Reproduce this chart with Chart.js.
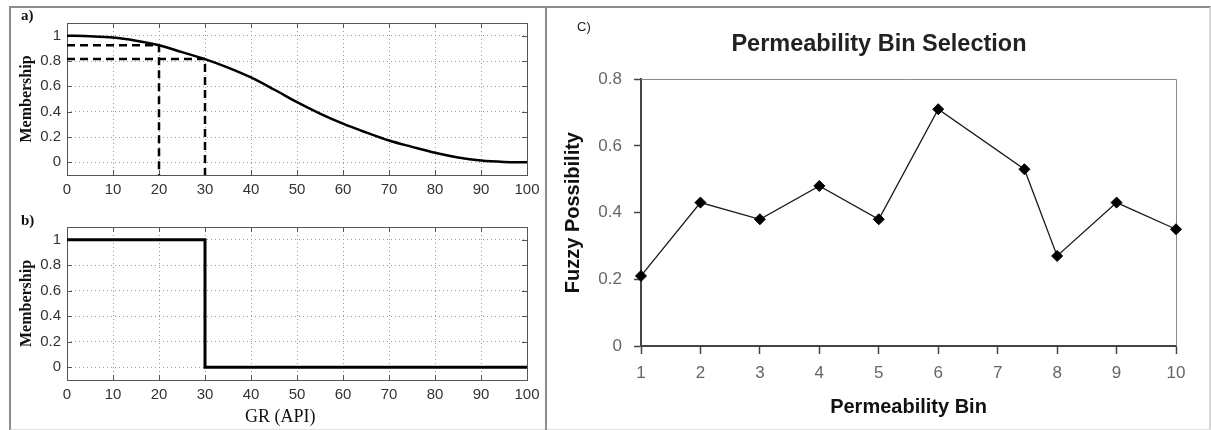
<!DOCTYPE html>
<html>
<head>
<meta charset="utf-8">
<title>Membership and permeability bin selection</title>
<script src="https://cdn.jsdelivr.net/npm/chart.js@4.4.0/dist/chart.umd.min.js"></script>
<style>
  body { margin: 0; background: #fff; width: 1211px; height: 430px; overflow: hidden; position: relative; }
  .frame { position: absolute; left: 9px; top: 6px; width: 1198px; height: 421px;
           border: 2px solid #8c8c8c; border-right-color: #d8d8d8; border-bottom-color: #e0e0e0; }
  .divider { position: absolute; left: 545px; top: 6px; width: 2px; height: 424px; background: #8c8c8c; }
  canvas { position: absolute; }
  .lbl { position: absolute; font-family: "Liberation Serif", "Times New Roman", serif; font-weight: bold; font-size: 15px; color: #111; }
  .xlbl { position: absolute; font-family: "Liberation Serif", "Times New Roman", serif; font-size: 18px; color: #111; }
  .clbl { position: absolute; font-family: "Liberation Sans", Arial, sans-serif; font-size: 13px; color: #222; }
</style>
</head>
<body>
<div class="frame"></div>
<div class="divider"></div>
<canvas id="chartA" width="546" height="200" style="left:0;top:0"></canvas>
<canvas id="chartB" width="546" height="230" style="left:0;top:200px"></canvas>
<canvas id="chartC" width="664" height="430" style="left:547px;top:0"></canvas>
<div class="lbl" style="left:21px;top:7px">a)</div>
<div class="lbl" style="left:21px;top:212px">b)</div>
<div class="xlbl" style="left:245px;top:406px">GR (API)</div>
<div class="clbl" style="left:577px;top:19px">C)</div>
<script>
// panel a: gradual membership curve
const grX = [0, 5, 10, 15, 20, 25, 30, 35, 40, 45, 50, 55, 60, 65, 70, 75, 80, 85, 90, 95, 100];
const membershipA = [1.0, 0.995, 0.985, 0.96, 0.925, 0.87, 0.815, 0.748, 0.67, 0.575, 0.475, 0.385,
                     0.305, 0.236, 0.172, 0.122, 0.075, 0.038, 0.014, 0.003, 0];
const cut20X = [0, 20, 20];
const cut20Y = [0.925, 0.925, -0.1];
const cut30X = [0, 30, 30];
const cut30Y = [0.815, 0.815, -0.1];

// panel b: crisp cut-off
const stepX = [0, 30, 30, 100];
const stepY = [1, 1, 0, 0];

const grTicks = [0, 10, 20, 30, 40, 50, 60, 70, 80, 90, 100];
const memTicks = [0, 0.2, 0.4, 0.6, 0.8, 1];

// panel c: permeability bins
const bins = [1, 2, 3, 4, 5, 6, 7.45, 8, 9, 10];
const possibility = [0.21, 0.43, 0.38, 0.48, 0.38, 0.71, 0.53, 0.27, 0.43, 0.35];
const binTicks = [1, 2, 3, 4, 5, 6, 7, 8, 9, 10];
const possTicks = [0, 0.2, 0.4, 0.6, 0.8];

Chart.defaults.font.family = '"Liberation Sans", Arial, sans-serif';
Chart.defaults.animation = false;

const pts = (xs, ys) => xs.map((v, i) => ({ x: v, y: ys[i] }));
const fmt = v => String(+Number(v).toFixed(2));

// box with inward ticks, matlab style
const matlabBox = {
    id: 'matlabBox',
    beforeDatasetsDraw(chart) {
        const { ctx, chartArea: a, scales: { x, y } } = chart;
        ctx.save();
        ctx.strokeStyle = '#555';
        ctx.lineWidth = 1;
        ctx.strokeRect(Math.round(a.left) + 0.5, Math.round(a.top) + 0.5, Math.round(a.width), Math.round(a.height));
        ctx.beginPath();
        grTicks.forEach(v => {
            const px = Math.round(x.getPixelForValue(v)) + 0.5;
            ctx.moveTo(px, a.bottom); ctx.lineTo(px, a.bottom - 5);
            ctx.moveTo(px, a.top); ctx.lineTo(px, a.top + 5);
        });
        memTicks.forEach(v => {
            const py = Math.round(y.getPixelForValue(v)) + 0.5;
            ctx.moveTo(a.left, py); ctx.lineTo(a.left + 5, py);
            ctx.moveTo(a.right, py); ctx.lineTo(a.right - 5, py);
        });
        ctx.stroke();
        ctx.restore();
    }
};

function memScales(xHeight) {
    return {
        x: {
            type: 'linear', min: 0, max: 100,
            afterBuildTicks: s => { s.ticks = grTicks.map(v => ({ value: v })); },
            afterFit: s => { s.height = xHeight; },
            grid: { color: '#9a9a9a', drawTicks: false },
            border: { display: false, dash: [1, 3] },
            ticks: { padding: 6, color: '#333', font: { size: 15 }, callback: fmt, maxRotation: 0 }
        },
        y: {
            min: -0.1, max: 1.1,
            afterBuildTicks: s => { s.ticks = memTicks.map(v => ({ value: v })); },
            afterFit: s => { s.width = 67; },
            grid: { color: '#9a9a9a', drawTicks: false },
            border: { display: false, dash: [1, 3] },
            ticks: { padding: 6, color: '#333', font: { size: 15 }, callback: fmt },
            title: {
                display: true, text: 'Membership', color: '#111',
                font: { family: '"Liberation Serif", "Times New Roman", serif', weight: 'bold', size: 16 },
                padding: { top: 17 }
            }
        }
    };
}

function createChartA() {
    new Chart(document.getElementById('chartA'), {
        type: 'scatter',
        data: {
            datasets: [
                { data: pts(grX, membershipA), showLine: true, borderColor: '#000', borderWidth: 2.5,
                  pointRadius: 0, cubicInterpolationMode: 'monotone' },
                { data: pts(cut20X, cut20Y), showLine: true, borderColor: '#000', borderWidth: 2.5,
                  borderDash: [8, 5], pointRadius: 0 },
                { data: pts(cut30X, cut30Y), showLine: true, borderColor: '#000', borderWidth: 2.5,
                  borderDash: [8, 5], pointRadius: 0 }
            ]
        },
        options: {
            responsive: false,
            layout: { padding: { left: 0, top: 23, right: 19, bottom: 0 } },
            plugins: { legend: { display: false }, tooltip: { enabled: false } },
            scales: memScales(25)
        },
        plugins: [matlabBox]
    });
}

function createChartB() {
    new Chart(document.getElementById('chartB'), {
        type: 'scatter',
        data: {
            datasets: [
                { data: pts(stepX, stepY), showLine: true, borderColor: '#000', borderWidth: 3,
                  pointRadius: 0 }
            ]
        },
        options: {
            responsive: false,
            layout: { padding: { left: 0, top: 27, right: 19, bottom: 0 } },
            plugins: { legend: { display: false }, tooltip: { enabled: false } },
            scales: memScales(50)
        },
        plugins: [matlabBox]
    });
}

// top and right edges of the excel-style plot area
const excelBox = {
    id: 'excelBox',
    beforeDatasetsDraw(chart) {
        const { ctx, chartArea: a } = chart;
        ctx.save();
        ctx.strokeStyle = '#8a8a8a';
        ctx.lineWidth = 1;
        ctx.beginPath();
        ctx.moveTo(a.left, Math.round(a.top) + 0.5);
        ctx.lineTo(Math.round(a.right) + 0.5, Math.round(a.top) + 0.5);
        ctx.lineTo(Math.round(a.right) + 0.5, a.bottom);
        ctx.stroke();
        ctx.restore();
    }
};

function createChartC() {
    new Chart(document.getElementById('chartC'), {
        type: 'scatter',
        data: {
            datasets: [{
                data: pts(bins, possibility), showLine: true, clip: false,
                borderColor: '#1a1a1a', borderWidth: 1.3,
                pointStyle: 'rectRot', pointRadius: 5.5,
                pointBackgroundColor: '#000', pointBorderColor: '#000', pointBorderWidth: 1
            }]
        },
        options: {
            responsive: false,
            layout: { padding: 0 },
            plugins: {
                legend: { display: false }, tooltip: { enabled: false },
                title: {
                    display: true, text: 'Permeability Bin Selection', color: '#222',
                    font: { size: 23.5, weight: 'bold' },
                    padding: { top: 30, bottom: 21 }
                }
            },
            scales: {
                x: {
                    type: 'linear', min: 1, max: 10,
                    afterBuildTicks: s => { s.ticks = binTicks.map(v => ({ value: v })); },
                    afterFit: s => { s.height = 84; },
                    grid: { drawOnChartArea: false, drawTicks: true, tickLength: 8, tickColor: '#444', tickWidth: 1.5 },
                    border: { color: '#444', width: 2 },
                    ticks: { padding: 9, color: '#666', font: { size: 17 }, callback: fmt, maxRotation: 0 },
                    title: {
                        display: true, text: 'Permeability Bin', color: '#111',
                        font: { size: 20, weight: 'bold' }, padding: { bottom: 11 }
                    }
                },
                y: {
                    min: 0, max: 0.8,
                    afterBuildTicks: s => { s.ticks = possTicks.map(v => ({ value: v })); },
                    afterFit: s => { s.width = 94; },
                    grid: { drawOnChartArea: false, drawTicks: true, tickLength: 7, tickColor: '#444', tickWidth: 1.5 },
                    border: { color: '#444', width: 2 },
                    ticks: { padding: 12, color: '#666', font: { size: 17 }, callback: fmt },
                    title: {
                        display: true, text: 'Fuzzy Possibility', color: '#111',
                        font: { size: 20, weight: 'bold' }, padding: { top: 14 }
                    }
                },
                // empty right-hand spacer so the title stays centred on the whole panel
                yRight: {
                    position: 'right', min: 0, max: 0.8,
                    afterFit: s => { s.width = 35; },
                    grid: { display: false }, border: { display: false }, ticks: { display: false }
                }
            }
        },
        plugins: [excelBox]
    });
}

window.onload = function () {
    createChartA();
    createChartB();
    createChartC();
};
</script>
</body>
</html>
